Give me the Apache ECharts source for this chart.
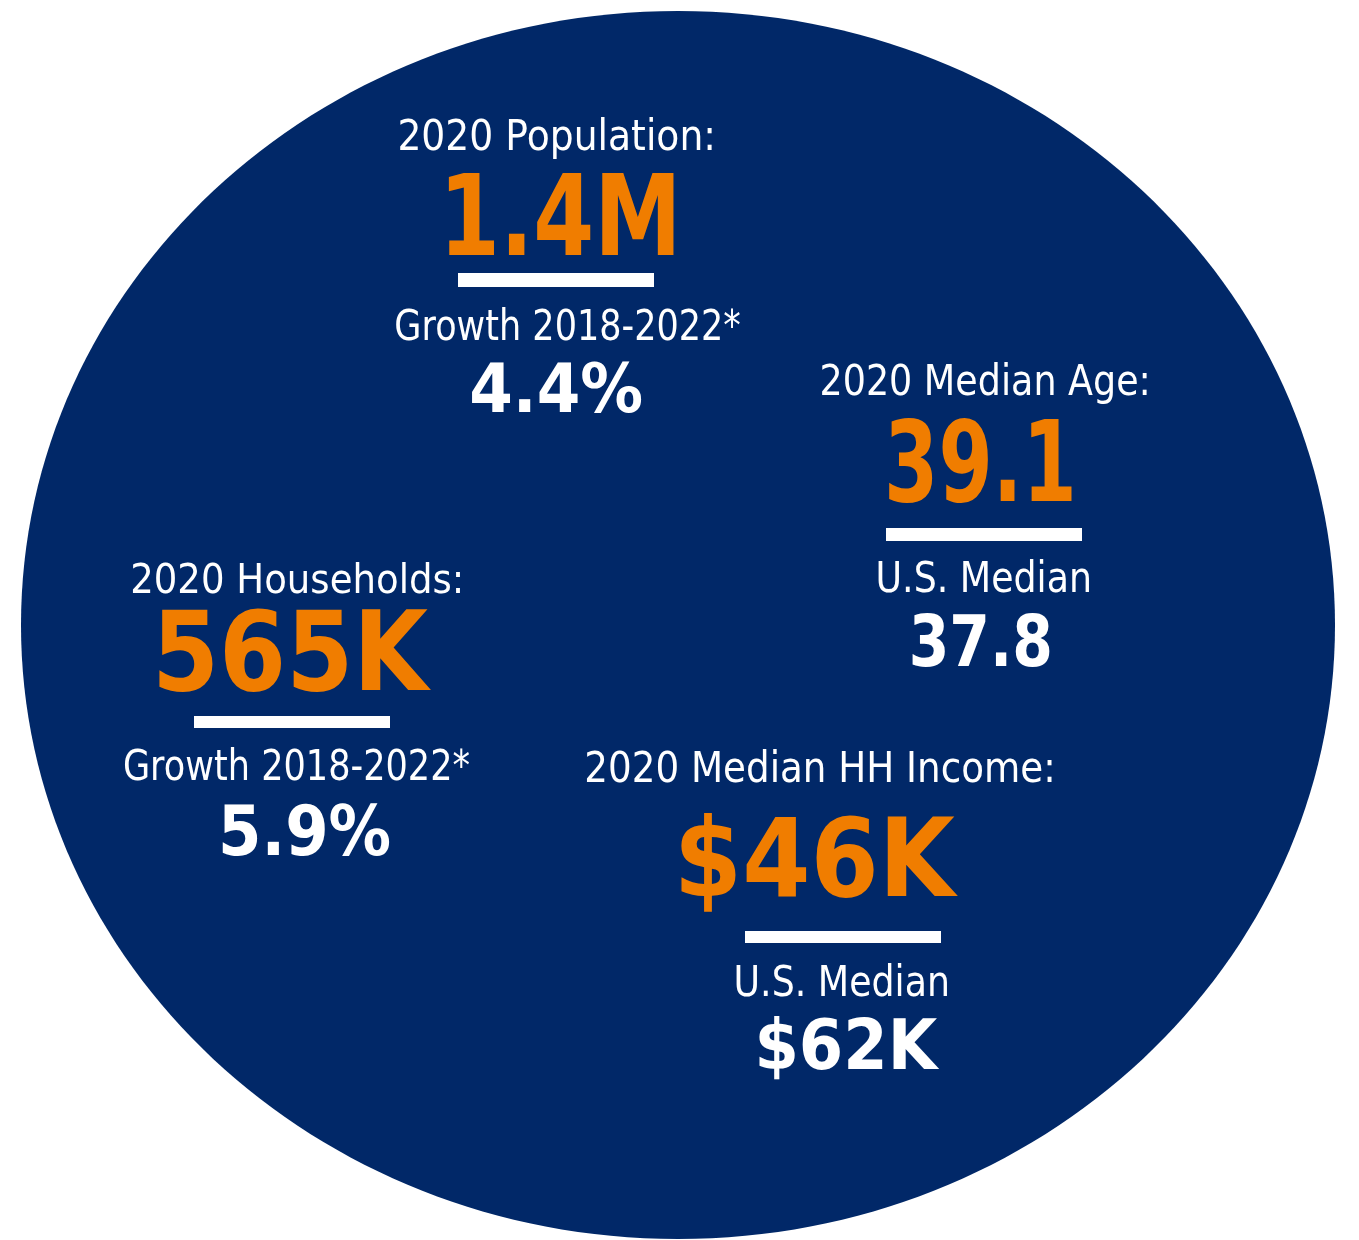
<!DOCTYPE html>
<html>
<head>
<meta charset="utf-8">
<script src="https://cdn.jsdelivr.net/npm/echarts@6/dist/echarts.min.js"></script>
<style>
html,body{margin:0;padding:0;background:#ffffff;}
#chart{width:1359px;height:1240px;}
</style>
</head>
<body>
<div id="chart"></div>
<script>
// ---- data ----
const blockTitles = ['2020 Population:', '2020 Median Age:', '2020 Households:', '2020 Median HH Income:'];
const headlineValues = ['1.4M', '39.1', '565K', '$46K'];
const compareLabels = ['Growth 2018-2022*', 'U.S. Median', 'Growth 2018-2022*', 'U.S. Median'];
const compareValues = ['4.4%', '37.8', '5.9%', '$62K'];

// ---- layout (centre x, cap-centre y, cap height, ink width) ----
const titleLayout    = [[556, 134.5, 33, 312], [984.5, 379.5, 33, 325], [296, 578, 31, 328], [819.5, 766, 32, 465]];
const headlineLayout = [[561, 214.5, 85, 225], [980.5, 460.5, 85, 183], [295, 650, 84, 272], [819.5, 856.5, 83, 277]];
const barLayout      = [[458, 273, 196, 14], [886, 528, 196, 13], [194, 716, 196, 12], [745, 931, 196, 12]];
const compLabelLayout= [[568, 324, 32, 344], [983.5, 576.5, 33, 211], [297, 764.5, 33, 345], [841.5, 980.5, 33, 211]];
const compValueLayout= [[557, 387.5, 51, 170], [981, 640, 54, 138], [306, 829, 53, 167], [849.5, 1043.5, 53, 181]];

const NAVY = '#012868';
const ORANGE = '#F07D00';
const WHITE = '#ffffff';
const FAMILY = '"DejaVu Sans"';

const mctx = document.createElement('canvas').getContext('2d');
function measure(text, font) {
  mctx.font = font;
  mctx.textBaseline = 'middle';
  mctx.textAlign = 'center';
  return mctx.measureText(text);
}
function fitText(text, lay, weight, color) {
  const [cx, cy, cap, w] = lay;
  const m0 = measure('0', weight + ' 100px ' + FAMILY);
  const capH100 = m0.actualBoundingBoxAscent + m0.actualBoundingBoxDescent;
  const size = cap * 100 / capH100;
  const font = weight + ' ' + size.toFixed(2) + 'px ' + FAMILY;
  const mc = measure('0', font);
  const capOff = (mc.actualBoundingBoxDescent - mc.actualBoundingBoxAscent) / 2;
  const mt = measure(text, font);
  const inkW = mt.actualBoundingBoxLeft + mt.actualBoundingBoxRight;
  const inkOff = (mt.actualBoundingBoxRight - mt.actualBoundingBoxLeft) / 2;
  const sx = w / inkW;
  return {
    type: 'text',
    x: cx - sx * inkOff,
    y: cy - capOff,
    scaleX: sx,
    scaleY: 1,
    z: 10,
    style: {
      text: text,
      x: 0, y: 0,
      font: font,
      fill: color,
      textAlign: 'center',
      textVerticalAlign: 'middle',
      align: 'center',
      verticalAlign: 'middle'
    }
  };
}

const elements = [{
  type: 'ellipse',
  shape: { cx: 678, cy: 625, rx: 657, ry: 614 },
  style: { fill: NAVY },
  z: 1
}];

for (let i = 0; i < blockTitles.length; i++) {
  elements.push(fitText(blockTitles[i], titleLayout[i], 'normal', WHITE));
  elements.push(fitText(headlineValues[i], headlineLayout[i], 'bold', ORANGE));
  const b = barLayout[i];
  elements.push({ type: 'rect', shape: { x: b[0], y: b[1], width: b[2], height: b[3] }, style: { fill: WHITE }, z: 10 });
  elements.push(fitText(compareLabels[i], compLabelLayout[i], 'normal', WHITE));
  elements.push(fitText(compareValues[i], compValueLayout[i], 'bold', WHITE));
}

const chart = echarts.init(document.getElementById('chart'), null, { renderer: 'canvas' });
chart.setOption({
  backgroundColor: '#ffffff',
  animation: false,
  graphic: { elements: elements }
});
</script>
</body>
</html>
